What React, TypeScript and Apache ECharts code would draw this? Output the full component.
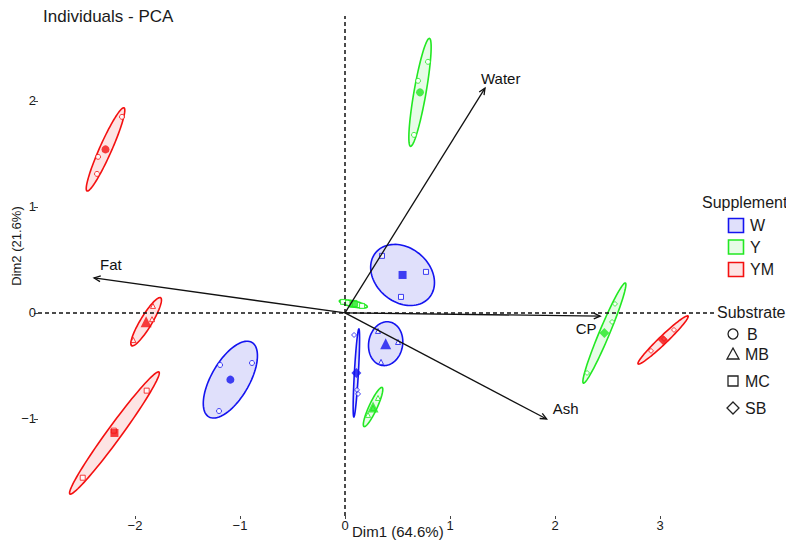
import React, { useEffect, useRef } from "react";
import * as echarts from "echarts";

// ---------------- data ----------------
const supplements = ["W", "Y", "YM"];
const substrates = ["B", "MB", "MC", "SB"];

// group means: [supplement, substrate, Dim1, Dim2]
const groupMeans: [string, string, number, number][] = [
  ["W", "B", -1.092, -0.629],
  ["W", "MB", 0.387, -0.29],
  ["W", "MC", 0.548, 0.358],
  ["W", "SB", 0.108, -0.566],
  ["Y", "B", 0.714, 2.08],
  ["Y", "MB", 0.267, -0.887],
  ["Y", "MC", 0.079, 0.085],
  ["Y", "SB", 2.47, -0.19],
  ["YM", "B", -2.281, 1.542],
  ["YM", "MB", -1.894, -0.083],
  ["YM", "MC", -2.196, -1.132],
  ["YM", "SB", 3.029, -0.255],
];

// individuals: [supplement, substrate, Dim1, Dim2]
const individuals: [string, string, number, number][] = [
  ["W", "B", -1.19, -0.491], ["W", "B", -0.886, -0.472], ["W", "B", -1.2, -0.925],
  ["W", "MB", 0.314, -0.17], ["W", "MB", 0.505, -0.274], ["W", "MB", 0.343, -0.462],
  ["W", "MC", 0.352, 0.538], ["W", "MC", 0.771, 0.387], ["W", "MC", 0.533, 0.151],
  ["W", "SB", 0.086, -0.208], ["W", "SB", 0.114, -0.726], ["W", "SB", 0.124, -0.764],
  ["Y", "B", 0.79, 2.368], ["Y", "B", 0.695, 2.189], ["Y", "B", 0.657, 1.679],
  ["Y", "MB", 0.314, -0.802], ["Y", "MB", 0.267, -0.896], ["Y", "MB", 0.219, -0.962],
  ["Y", "MC", -0.019, 0.104], ["Y", "MC", 0.095, 0.085], ["Y", "MC", 0.162, 0.066],
  ["Y", "SB", 2.571, 0.085], ["Y", "SB", 2.543, -0.085], ["Y", "SB", 2.305, -0.566],
  ["YM", "B", -2.124, 1.849], ["YM", "B", -2.352, 1.472], ["YM", "B", -2.362, 1.311],
  ["YM", "MB", -1.829, 0.066], ["YM", "MB", -1.838, -0.059], ["YM", "MB", -2.016, -0.255],
  ["YM", "MC", -1.889, -0.733], ["YM", "MC", -2.498, -1.554], ["YM", "MC", -2.202, -1.11],
  ["YM", "SB", 3.133, -0.16], ["YM", "SB", 3.038, -0.245], ["YM", "SB", 2.914, -0.358],
];

// confidence ellipses: [supplement, substrate, major semi-axis dDim1, dDim2, minor semi-axis]
const ellipseAxes: [string, string, number, number, number][] = [
  ["W", "B", 0.205, 0.351, 0.18],
  ["W", "MB", 0.036, 0.205, 0.161],
  ["W", "MC", 0.255, -0.212, 0.256],
  ["W", "SB", 0.024, 0.415, 0.019],
  ["Y", "B", 0.09, 0.509, 0.057],
  ["Y", "MB", 0.086, 0.184, 0.038],
  ["Y", "MC", 0.133, -0.028, 0.028],
  ["Y", "SB", 0.2, 0.472, 0.048],
  ["YM", "B", 0.176, 0.392, 0.057],
  ["YM", "MB", 0.138, 0.226, 0.055],
  ["YM", "MC", 0.424, 0.575, 0.067],
  ["YM", "SB", 0.238, 0.226, 0.038],
];

// variables (biplot arrows)
const variables = ["Water", "Fat", "CP", "Ash"];
const variableDim1 = [1.333, -2.39, 2.43, 1.92];
const variableDim2 = [2.12, 0.33, -0.03, -1.0];

const xTicks = [-2, -1, 0, 1, 2, 3];
const yTicks = [-1, 0, 1, 2];

// ---------------- style ----------------
const FONT = "'Liberation Sans', Arial, Helvetica, sans-serif";
const supplementColors: Record<string, string> = { W: "#1414f0", Y: "#22e822", YM: "#f41010" };
const supplementFills: Record<string, string> = {
  W: "rgba(60,60,230,0.16)",
  Y: "rgba(40,230,40,0.11)",
  YM: "rgba(240,30,30,0.12)",
};
const substrateSymbols: Record<string, string> = { B: "circle", MB: "triangle", MC: "rect", SB: "diamond" };
// label offsets (pixels) from the arrow tip, and alignment
const labelOffsets: [number, number, string][] = [
  [-4, -10, "left"],
  [6, -13, "left"],
  [-14, 12, "center"],
  [6, -10, "left"],
];

function buildOption() {
  const ellipseData = ellipseAxes.map((e) => {
    const m = groupMeans.find((g) => g[0] === e[0] && g[1] === e[1])!;
    return { value: [m[2], m[3], e[2], e[3], e[4]], sup: e[0] };
  });

  const ellipseSeries: any = {
    type: "custom",
    name: "ellipses",
    z: 2,
    silent: true,
    encode: { x: 0, y: 1 },
    data: ellipseData.map((d) => d.value),
    renderItem: (params: any, api: any) => {
      const cx = api.value(0), cy = api.value(1), ax = api.value(2), ay = api.value(3), b = api.value(4);
      const sup = ellipseData[params.dataIndex].sup;
      const c = api.coord([cx, cy]);
      const e = api.coord([cx + ax, cy + ay]);
      const ux = e[0] - c[0], uy = e[1] - c[1];
      const L = Math.sqrt(ux * ux + uy * uy) || 1;
      const sz = api.size([b, b]);
      const bp = (sz[0] + sz[1]) / 2;
      const nx = (-uy / L) * bp, ny = (ux / L) * bp;
      const pts: number[][] = [];
      const N = 90;
      for (let i = 0; i < N; i++) {
        const t = (i / N) * Math.PI * 2;
        pts.push([c[0] + ux * Math.cos(t) + nx * Math.sin(t), c[1] + uy * Math.cos(t) + ny * Math.sin(t)]);
      }
      return {
        type: "polygon",
        shape: { points: pts },
        style: { fill: supplementFills[sup], stroke: supplementColors[sup], lineWidth: 1.6 },
      };
    },
  };

  const pointSeries: any[] = [];
  supplements.forEach((s) => {
    pointSeries.push({
      type: "scatter",
      name: s + "-ind",
      z: 3,
      silent: true,
      data: individuals
        .filter((p) => p[0] === s)
        .map((p) => ({ value: [p[2], p[3]], symbol: substrateSymbols[p[1]] })),
      symbolSize: 5,
      itemStyle: { color: "#ffffff", borderColor: supplementColors[s], borderWidth: 1 },
    });
    pointSeries.push({
      type: "scatter",
      name: s + "-mean",
      z: 4,
      silent: true,
      data: groupMeans
        .filter((p) => p[0] === s)
        .map((p) => ({
          value: [p[2], p[3]],
          symbol: substrateSymbols[p[1]],
          symbolSize: p[1] === "MB" ? 11 : p[1] === "SB" ? 10 : 8,
        })),
      itemStyle: { color: supplementColors[s] },
    });
  });

  const arrowSeries: any = {
    type: "custom",
    name: "variables",
    z: 5,
    silent: true,
    encode: { x: 0, y: 1 },
    data: variables.map((v, i) => [variableDim1[i], variableDim2[i], i]),
    markLine: {
      silent: true,
      symbol: "none",
      label: { show: false },
      lineStyle: { color: "#111", type: [4, 3], width: 1.5 },
      data: [{ xAxis: 0 }, { yAxis: 0 }],
      z: 6,
    },
    renderItem: (params: any, api: any) => {
      const i = params.dataIndex;
      const o = api.coord([0, 0]);
      const t = api.coord([api.value(0), api.value(1)]);
      const ang = Math.atan2(t[1] - o[1], t[0] - o[0]);
      const hl = 7, ha = 0.42;
      const p1 = [t[0] - hl * Math.cos(ang - ha), t[1] - hl * Math.sin(ang - ha)];
      const p2 = [t[0] - hl * Math.cos(ang + ha), t[1] - hl * Math.sin(ang + ha)];
      const off = labelOffsets[i];
      return {
        type: "group",
        children: [
          { type: "line", shape: { x1: o[0], y1: o[1], x2: t[0], y2: t[1] }, style: { stroke: "#111", lineWidth: 1.3 } },
          { type: "polyline", shape: { points: [p1, t, p2] }, style: { stroke: "#111", lineWidth: 1.3, fill: null } },
          {
            type: "text",
            x: t[0] + off[0],
            y: t[1] + off[1],
            style: { text: variables[i], font: `15px ${FONT}`, fill: "#111", align: off[2], verticalAlign: "middle" },
          },
        ],
      };
    },
  };

  const legendY = [225.5, 247, 269.5];
  const subY = [334, 354, 381, 408];
  const graphic: any[] = [
    { type: "text", left: 43, top: 8, style: { text: "Individuals - PCA", font: `17px ${FONT}`, fill: "#1a1a1a" } },
    {
      type: "text",
      x: 16,
      y: 246,
      rotation: Math.PI / 2,
      style: { text: "Dim2 (21.6%)", font: `13px ${FONT}`, fill: "#1a1a1a", align: "center", verticalAlign: "middle" },
    },
    {
      type: "text",
      x: 352,
      y: 531,
      style: { text: "Dim1 (64.6%)", font: `15px ${FONT}`, fill: "#1a1a1a", align: "left", verticalAlign: "middle" },
    },
    { type: "text", x: 702, y: 202, style: { text: "Supplement", font: `16px ${FONT}`, fill: "#1a1a1a", verticalAlign: "middle" } },
    { type: "text", x: 717, y: 312, style: { text: "Substrate", font: `16px ${FONT}`, fill: "#1a1a1a", verticalAlign: "middle" } },
  ];
  supplements.forEach((s, i) => {
    graphic.push({
      type: "rect",
      shape: { x: 728.5, y: legendY[i] - 7, width: 15, height: 14 },
      style: { fill: supplementFills[s], stroke: supplementColors[s], lineWidth: 1.6 },
    });
    graphic.push({
      type: "text",
      x: 750,
      y: legendY[i],
      style: { text: s, font: `16px ${FONT}`, fill: "#1a1a1a", verticalAlign: "middle" },
    });
  });
  const sx = 733;
  graphic.push({ type: "circle", shape: { cx: sx, cy: subY[0], r: 5 }, style: { fill: null, stroke: "#222", lineWidth: 1.3 } });
  graphic.push({
    type: "polygon",
    shape: { points: [[sx, subY[1] - 6], [sx + 6, subY[1] + 5], [sx - 6, subY[1] + 5]] },
    style: { fill: null, stroke: "#222", lineWidth: 1.3 },
  });
  graphic.push({ type: "rect", shape: { x: sx - 5, y: subY[2] - 5, width: 10, height: 10 }, style: { fill: null, stroke: "#222", lineWidth: 1.3 } });
  graphic.push({
    type: "polygon",
    shape: { points: [[sx, subY[3] - 6], [sx + 6, subY[3]], [sx, subY[3] + 6], [sx - 6, subY[3]]] },
    style: { fill: null, stroke: "#222", lineWidth: 1.3 },
  });
  substrates.forEach((s, i) => {
    graphic.push({
      type: "text",
      x: i === 0 ? 747 : 745,
      y: subY[i],
      style: { text: s, font: `16px ${FONT}`, fill: "#1a1a1a", verticalAlign: "middle" },
    });
  });

  const fmt = (v: number) => String(v).replace("-", "\u2212");

  return {
    animation: false,
    backgroundColor: "#ffffff",
    textStyle: { fontFamily: FONT },
    grid: { left: 38, right: 70, top: 16, bottom: 32, containLabel: false },
    xAxis: {
      type: "value",
      min: -2.924,
      max: 3.533,
      position: "bottom",
      splitLine: { show: false },
      axisLine: { show: false, onZero: false },
      axisTick: { show: true, length: 3, customValues: xTicks, lineStyle: { color: "#444", width: 1 } },
      axisLabel: { customValues: xTicks, formatter: fmt, fontSize: 13, color: "#1a1a1a", margin: 3, fontFamily: FONT },
    },
    yAxis: {
      type: "value",
      min: -1.915,
      max: 2.8,
      position: "left",
      splitLine: { show: false },
      axisLine: { show: false, onZero: false },
      axisTick: { show: true, length: 4, customValues: yTicks, lineStyle: { color: "#444", width: 1 } },
      axisLabel: { customValues: yTicks, formatter: fmt, fontSize: 13, color: "#1a1a1a", margin: 2, fontFamily: FONT },
    },
    graphic,
    series: [ellipseSeries, ...pointSeries, arrowSeries],
  };
}

export default function App() {
  const ref = useRef<HTMLDivElement>(null);
  useEffect(() => {
    if (!ref.current) return;
    const chart = echarts.init(ref.current, undefined, { renderer: "svg" });
    chart.setOption(buildOption() as any);
    return () => chart.dispose();
  }, []);
  return (
    <div
      ref={ref}
      style={{ position: "absolute", left: 0, top: 0, width: 786, height: 548, background: "#fff" }}
    />
  );
}
